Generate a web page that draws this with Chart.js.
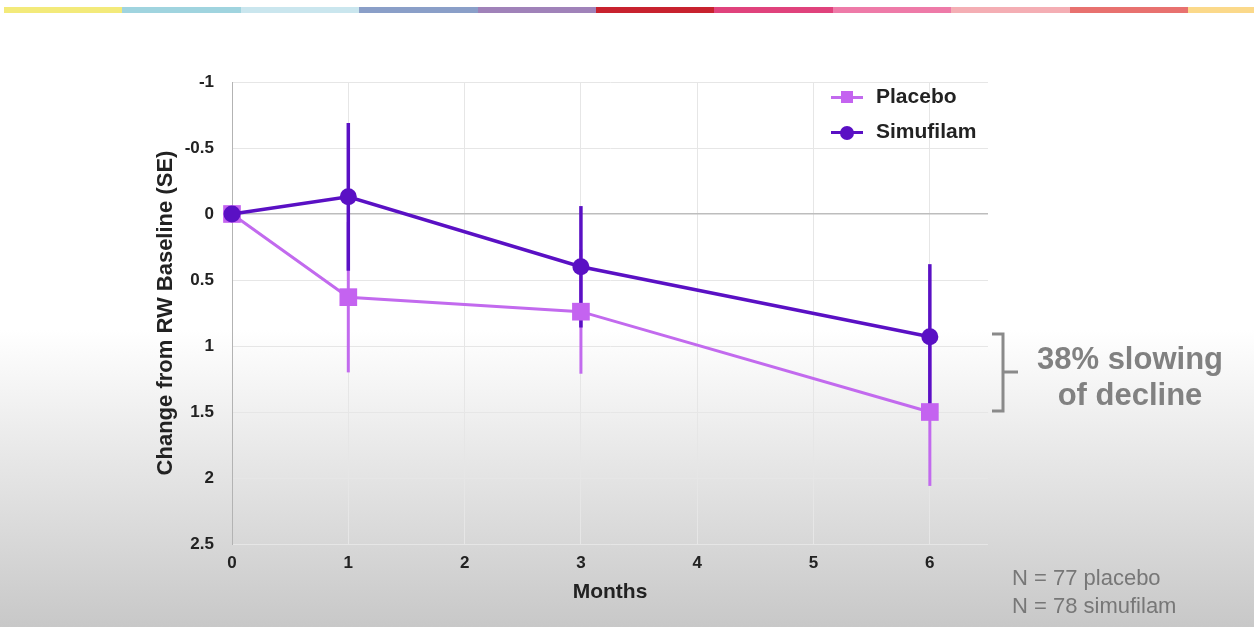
<!DOCTYPE html>
<html>
<head>
<meta charset="utf-8">
<script src="https://cdn.jsdelivr.net/npm/chart.js@4.4.1/dist/chart.umd.min.js"></script>
<style>
  html, body { margin: 0; padding: 0; }
  body {
    width: 1254px; height: 627px; overflow: hidden; position: relative;
    background: linear-gradient(to bottom, #ffffff 0px, #ffffff 330px, #c8c8c8 627px);
    font-family: "Liberation Sans", Arial, sans-serif;
  }
  #wrap { position: absolute; left: 0; top: 0; width: 1254px; height: 627px; }
  .band { position: absolute; top: 7px; height: 6px; }
  .legend { position: absolute; left: 831px; font: bold 21px "Liberation Sans", Arial, sans-serif; color: #222; }
  .legend .row { position: absolute; left: 0; height: 30px; width: 200px; }
  .legend .ln { position: absolute; left: 0; top: 14px; width: 32px; height: 3px; }
  .legend .mk { position: absolute; }
  .legend .tx { position: absolute; left: 45px; top: 2px; white-space: nowrap; }
  .note { position: absolute; left: 1035px; top: 341px; width: 190px; text-align: center;
          font: bold 31px "Liberation Sans", Arial, sans-serif; color: #818181; line-height: 36px; }
  .nn { position: absolute; left: 1012px; top: 564px; font: 22px "Liberation Sans", Arial, sans-serif;
        color: #777; line-height: 28px; white-space: nowrap; }
</style>
</head>
<body>
<div id="bands"></div>
<div id="wrap"><canvas id="c" width="1254" height="627"></canvas></div>
<div class="legend">
  <div class="row" style="top:82px">
    <div class="ln" style="background:#c26aee"></div>
    <div class="mk" style="left:10px;top:9px;width:12px;height:12px;background:#c463f0"></div>
    <div class="tx">Placebo</div>
  </div>
  <div class="row" style="top:117px">
    <div class="ln" style="background:#5a10c4"></div>
    <div class="mk" style="left:9px;top:9px;width:14px;height:14px;border-radius:50%;background:#5a10c4"></div>
    <div class="tx">Simufilam</div>
  </div>
</div>
<svg style="position:absolute;left:0;top:0" width="1254" height="627">
  <path d="M992,334 H1003 V411 H992 M1003,372 H1018" fill="none" stroke="#8a8a8a" stroke-width="3"/>
</svg>
<div class="note">38% slowing<br>of decline</div>
<div class="nn">N = 77 placebo<br>N = 78 simufilam</div>
<script>
// ---- data ----
const months = [0, 1, 3, 6];
const placebo = [0, 0.63, 0.74, 1.50];
const placeboSE = [0, 0.57, 0.47, 0.56];
const simufilam = [0, -0.13, 0.40, 0.93];
const simufilamSE = [0, 0.56, 0.46, 0.55];
const xTickValues = [0, 1, 2, 3, 4, 5, 6];
const yTickValues = [-1, -0.5, 0, 0.5, 1, 1.5, 2, 2.5];
const yTickLabels = ["-1", "-0.5", "0", "0.5", "1", "1.5", "2", "2.5"];
const seriesNames = ["Placebo", "Simufilam"];

// decorative top colour band
const bandColors = ["#f3ea7a","#a0d4df","#cae6ee","#8a9fc8","#a082b9","#c8222e","#e0427c","#ee7aa8","#f4aeb4","#e8716f","#fbd98a"];
const bandsEl = document.getElementById('bands');
bandColors.forEach((c, i) => {
  const d = document.createElement('div');
  d.className = 'band';
  const left = i === 0 ? 4 : 4 + i * 118.4;
  d.style.left = left + 'px';
  d.style.width = (i === bandColors.length - 1 ? 1254 - left : 118.4) + 'px';
  d.style.background = c;
  bandsEl.appendChild(d);
});

const PL = '#c463f0', PL_LINE = '#c26aee';
const SI = '#5a10c4';

const errorBars = {
  id: 'errorBars',
  beforeDatasetsDraw(chart) {
    const ctx = chart.ctx, xs = chart.scales.x, ys = chart.scales.y;
    const sets = [[placebo, placeboSE, PL_LINE, 3], [simufilam, simufilamSE, SI, 3.5]];
    ctx.save();
    sets.forEach(([vals, se, col, w]) => {
      ctx.strokeStyle = col; ctx.lineWidth = w; ctx.lineCap = 'butt';
      months.forEach((m, i) => {
        if (!se[i]) return;
        const x = xs.getPixelForValue(m);
        ctx.beginPath();
        ctx.moveTo(x, ys.getPixelForValue(vals[i] - se[i]));
        ctx.lineTo(x, ys.getPixelForValue(vals[i] + se[i]));
        ctx.stroke();
      });
    });
    ctx.restore();
  }
};

const tickFont = { family: '"Liberation Sans", Arial, sans-serif', size: 17, weight: 'bold' };

new Chart(document.getElementById('c'), {
  type: 'line',
  data: {
    datasets: [
      {
        label: seriesNames[0],
        data: months.map((m, i) => ({ x: m, y: placebo[i] })),
        borderColor: PL_LINE, backgroundColor: PL, borderWidth: 3,
        pointStyle: 'rect', pointRadius: 12.5, pointHoverRadius: 12.5,
        pointBackgroundColor: PL, pointBorderWidth: 0, order: 2, clip: false
      },
      {
        label: seriesNames[1],
        data: months.map((m, i) => ({ x: m, y: simufilam[i] })),
        borderColor: SI, backgroundColor: SI, borderWidth: 3.5,
        pointStyle: 'circle', pointRadius: 8.5, pointHoverRadius: 8.5,
        pointBackgroundColor: SI, pointBorderWidth: 0, order: 1, clip: false
      }
    ]
  },
  options: {
    responsive: false, animation: false,
    layout: { padding: { left: 150, top: 82, right: 266, bottom: 17 } },
    plugins: { legend: { display: false }, tooltip: { enabled: false } },
    scales: {
      x: {
        type: 'linear', min: 0, max: 6.5,
        afterBuildTicks: s => { s.ticks = xTickValues.map(v => ({ value: v })); },
        afterFit: s => { s.height = 66; },
        ticks: { font: tickFont, color: '#222', padding: 9, maxRotation: 0,
                 callback: v => String(v) },
        grid: { color: '#e6e6e6', lineWidth: 1, drawTicks: false },
        border: { display: false },
        title: { display: true, text: 'Months', color: '#222', padding: { top: 0, bottom: 5 },
                 font: { family: '"Liberation Sans", Arial, sans-serif', size: 21, weight: 'bold' } }
      },
      y: {
        type: 'linear', min: -1, max: 2.5, reverse: true,
        afterBuildTicks: s => { s.ticks = yTickValues.map(v => ({ value: v })); },
        afterFit: s => { s.width = 82; },
        ticks: { font: tickFont, color: '#222', padding: 18,
                 callback: v => { const i = yTickValues.indexOf(v); return i >= 0 ? yTickLabels[i] : ''; } },
        grid: {
          color: c => (c.tick && c.tick.value === 0) ? '#bdbdbd' : '#e6e6e6',
          lineWidth: c => (c.tick && c.tick.value === 0) ? 1.5 : 1,
          drawTicks: false
        },
        border: { display: true, color: '#b3b3b3', width: 1 },
        title: { display: true, text: 'Change from RW Baseline (SE)', color: '#222', padding: { top: 3, bottom: 0 },
                 font: { family: '"Liberation Sans", Arial, sans-serif', size: 22, weight: 'bold' } }
      }
    }
  },
  plugins: [errorBars]
});
</script>
</body>
</html>
